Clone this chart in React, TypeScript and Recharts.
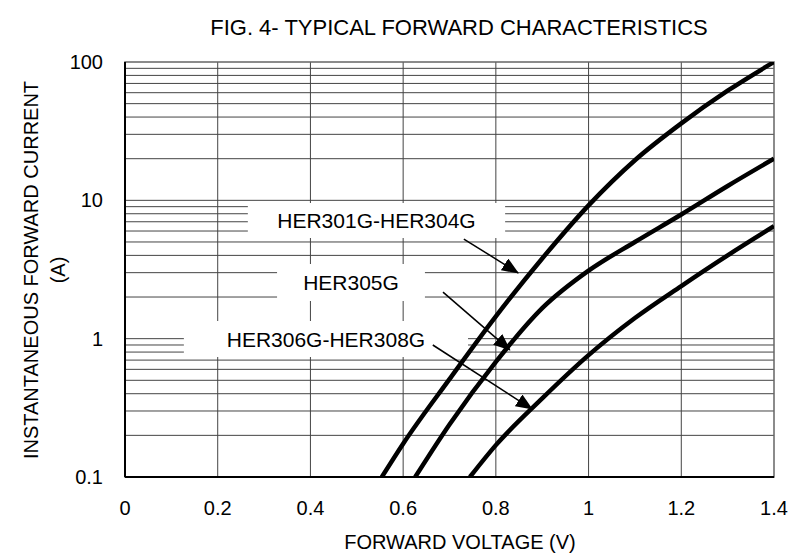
import React from "react";
import {
  LineChart,
  Line,
  XAxis,
  YAxis,
  ReferenceLine,
  ReferenceArea,
} from "recharts";

// forward voltage (V) / current (A)
const her301V = [0.554, 0.6, 0.7, 0.8, 0.9, 1.0, 1.1, 1.2, 1.3, 1.4];
const her301I = [0.1, 0.174, 0.51, 1.45, 3.8, 9.2, 19.5, 36, 62, 100];

const her305V = [0.626, 0.7, 0.8, 0.9, 1.0, 1.1, 1.2, 1.3, 1.4];
const her305I = [0.1, 0.24, 0.68, 1.66, 3.1, 5.0, 7.9, 12.7, 20];

const her306V = [0.744, 0.8, 0.9, 1.0, 1.1, 1.2, 1.3, 1.4];
const her306I = [0.1, 0.17, 0.37, 0.76, 1.41, 2.4, 4.0, 6.5];

const xTicks = [0, 0.2, 0.4, 0.6, 0.8, 1, 1.2, 1.4];
const yTicks = [0.1, 1, 10, 100];

// log minor grid: 0.2..0.9, 2..9, 20..90
const yGrid: number[] = [];
[0.1, 1, 10].forEach((d) => {
  for (let k = 2; k <= 9; k++) yGrid.push(+(d * k).toFixed(2));
});
yGrid.push(10, 1);
const xGrid = [0.2, 0.4, 0.6, 0.8, 1, 1.2];

// label boxes (white patches over the grid) and arrows
const labels = [
  { text: "HER301G-HER304G", x1: 0.265, x2: 0.82, y1: 5.35, y2: 9.57 },
  { text: "HER305G", x1: 0.328, x2: 0.647, y1: 1.87, y2: 3.47 },
  { text: "HER306G-HER308G", x1: 0.127, x2: 0.74, y1: 0.736, y2: 1.34 },
];
const arrows = [
  { from: { x: 0.731, y: 5.25 }, to: { x: 0.848, y: 2.99 } },
  { from: { x: 0.686, y: 2.17 }, to: { x: 0.83, y: 0.83 } },
  { from: { x: 0.664, y: 0.9 }, to: { x: 0.878, y: 0.31 } },
];

const toRows = (v: number[], i: number[]) => v.map((x, k) => ({ v: x, i: i[k] }));
const series = [toRows(her301V, her301I), toRows(her305V, her305I), toRows(her306V, her306I)];

const font = "'Liberation Sans', Arial, sans-serif";

export default function App() {
  return (
    <div style={{ position: "absolute", left: 0, top: 0, width: 810, height: 557, background: "#fff", fontFamily: font }}>
      <svg width={0} height={0} style={{ position: "absolute" }}>
        <defs>
          <marker id="arrowHead" markerUnits="userSpaceOnUse" markerWidth={18} markerHeight={14} refX={16} refY={7} orient="auto">
            <path d="M0,0 L17,7 L0,14 Z" fill="#000" />
          </marker>
        </defs>
      </svg>
      <LineChart width={810} height={557} margin={{ top: 62, right: 36, bottom: 50, left: 65 }}>
        <XAxis
          dataKey="v"
          type="number"
          domain={[0, 1.4]}
          ticks={xTicks}
          tickLine={false}
          tickSize={0}
          tickMargin={24}
          height={30}
          axisLine={{ stroke: "#000", strokeWidth: 2 }}
          tick={{ fill: "#000", fontSize: 20, fontFamily: font }}
          allowDataOverflow
        />
        <YAxis
          dataKey="i"
          type="number"
          scale="log"
          domain={[0.1, 100]}
          ticks={yTicks}
          tickLine={false}
          tickSize={0}
          tickMargin={22}
          width={60}
          axisLine={{ stroke: "#000", strokeWidth: 2 }}
          tick={{ fill: "#000", fontSize: 20, fontFamily: font }}
          allowDataOverflow
        />
        {yGrid.map((y, k) => (
          <ReferenceLine key={"h" + k} y={y} stroke="#444" strokeWidth={1} zIndex={-50} />
        ))}
        {xGrid.map((x) => (
          <ReferenceLine key={"v" + x} x={x} stroke="#444" strokeWidth={1} zIndex={-50} />
        ))}
        <ReferenceArea x1={0} x2={1.4} y1={0.1} y2={100} fill="none" stroke="#666" strokeWidth={1.5} zIndex={-40} />
        {labels.map((b) => (
          <ReferenceArea
            key={b.text}
            x1={b.x1}
            x2={b.x2}
            y1={b.y1}
            y2={b.y2}
            fill="#fff"
            fillOpacity={1}
            stroke="none"
            zIndex={-30}
            label={{ value: b.text, position: "center", fill: "#000", fontSize: 21, fontFamily: font }}
          />
        ))}
        {series.map((d, k) => (
          <Line
            key={k}
            data={d}
            dataKey="i"
            type="monotone"
            stroke="#000"
            strokeWidth={4.5}
            dot={false}
            activeDot={false}
            isAnimationActive={false}
          />
        ))}
        {arrows.map((a, k) => (
          <ReferenceLine
            key={"a" + k}
            segment={[a.from, a.to]}
            stroke="#000"
            strokeWidth={1.5}
            markerEnd="url(#arrowHead)"
            zIndex={600}
          />
        ))}
      </LineChart>
      <svg width={810} height={557} style={{ position: "absolute", left: 0, top: 0, pointerEvents: "none" }}>
        <text x={459} y={27} textAnchor="middle" dominantBaseline="central" fontSize={22} fontFamily={font} fill="#000">
          FIG. 4- TYPICAL FORWARD CHARACTERISTICS
        </text>
        <text x={460} y={542} textAnchor="middle" dominantBaseline="central" fontSize={20} fontFamily={font} fill="#000">
          FORWARD VOLTAGE (V)
        </text>
        <text x={31} y={270} transform="rotate(-90 31 270)" textAnchor="middle" dominantBaseline="central" fontSize={20} fontFamily={font} fill="#000">
          INSTANTANEOUS FORWARD CURRENT
        </text>
        <text x={58} y={270} transform="rotate(-90 58 270)" textAnchor="middle" dominantBaseline="central" fontSize={20} fontFamily={font} fill="#000">
          (A)
        </text>
      </svg>
    </div>
  );
}
